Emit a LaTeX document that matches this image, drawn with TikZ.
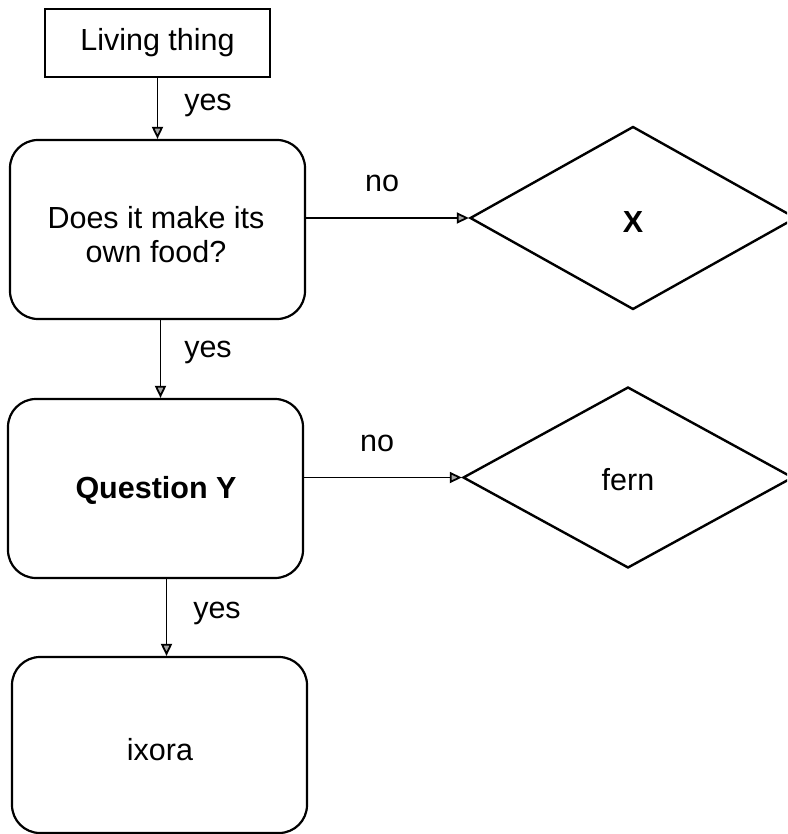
\documentclass[tikz,border=0pt]{standalone}
\usepackage{fontspec}
\setmainfont{Liberation Sans}
\usetikzlibrary{shapes.geometric,arrows.meta}
\begin{document}
\begin{tikzpicture}[x=1pt,y=-1pt,
  txt/.style={font=\fontsize{30.5}{34}\selectfont},
  plainbox/.style={draw, line width=2.2pt, inner sep=0pt, txt},
  roundbox/.style={draw, line width=2.2pt, rounded corners=28pt, inner sep=0pt, minimum width=295pt, txt, align=center},
  dia/.style={draw, diamond, line width=2.4pt, inner sep=0pt, txt},
  conn/.style={line width=1.8pt, -{Triangle[length=12pt,width=11pt,fill=gray!70]}},
  lbl/.style={txt}
]
\clip (0,0) rectangle (787,834);
\fill[white] (0,0) rectangle (787,834);
\node[plainbox, minimum width=225pt, minimum height=68pt] (living) at (157.5,43) {Living thing};
\node[roundbox, minimum height=179pt] (q1) at (157.5,229.5) {};
\node[txt, align=center] (q1t) at (156,235) {Does it make its\\own food?};
\node[roundbox, minimum height=179pt] (q2) at (155.5,488.5) {};
\node[txt, font=\fontsize{30.5}{34}\selectfont\bfseries] (q2t) at (156,490) {Question Y};
\node[roundbox, minimum height=176pt] (ix) at (159.5,745) {};
\node[txt] (ixt) at (160,750) {ixora};
\node[dia, minimum width=326pt, minimum height=183pt] (X) at (633,218) {};
\node[txt, font=\fontsize{30.5}{34}\selectfont\bfseries] (Xt) at (633,222) {X};
\node[dia, minimum width=330pt, minimum height=181pt] (fern) at (628,477.5) {};
\node[txt] (ferntxt) at (628,480) {fern};

\draw[conn] (living.south) -- (q1.north);
\draw[conn] ([xshift=3pt]q1.south) -- ([xshift=3pt]q1.south |- q2.north);
\draw[conn] ([xshift=11pt]q2.south) -- ([xshift=11pt]q2.south |- ix.north);
\draw[conn] (q1.east |- X.west) -- (X.west);
\draw[conn] (q2.east |- fern.west) -- (fern.west);

\node[lbl] (y1) at (208,105) {yes};
\node[lbl] (y2) at (208,352) {yes};
\node[lbl] (y3) at (217,613) {yes};
\node[lbl] (n1) at (382,183) {no};
\node[lbl] (n2) at (377,443) {no};
\end{tikzpicture}
\end{document}
